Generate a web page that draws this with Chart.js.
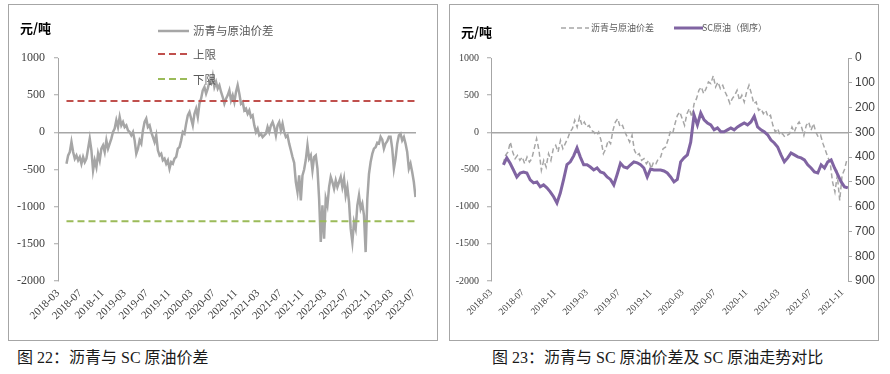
<!DOCTYPE html>
<html><head><meta charset="utf-8">
<script src="https://cdn.jsdelivr.net/npm/chart.js@4.4.0/dist/chart.umd.min.js"></script>
<style>
html,body{margin:0;padding:0;background:#fff;}
body{width:890px;height:374px;position:relative;overflow:hidden;}
.panel{position:absolute;border:1px solid #a6a6a6;box-sizing:border-box;}
.panel canvas{position:absolute;left:0;top:0;}
.abs{position:absolute;white-space:nowrap;}
.unit{font-family:"Noto Sans CJK SC",sans-serif;font-weight:bold;font-size:13px;color:#000;line-height:13px;}
.leg{font-family:"Noto Sans CJK SC",sans-serif;color:#595959;}
.cap{font-size:16px;color:#1a1a1a;line-height:16px;}
</style></head><body>
<div class="panel" style="left:8px;top:4px;width:430px;height:337px;"><canvas id="c1" width="428" height="335"></canvas></div>
<div class="panel" style="left:449px;top:4px;width:430px;height:337px;"><canvas id="c2" width="428" height="335"></canvas></div>

<div class="abs unit" style="left:20px;top:21px;">元/吨</div>
<svg class="abs" style="left:158px;top:26px" width="31" height="10"><line x1="0" y1="5" x2="31" y2="5" stroke="#a6a6a6" stroke-width="2.5"/></svg>
<div class="abs leg" style="left:193px;top:24px;font-size:11.5px;line-height:13px;">沥青与原油价差</div>
<svg class="abs" style="left:158px;top:49px" width="31" height="10"><line x1="0" y1="5" x2="31" y2="5" stroke="#c0504d" stroke-width="2" stroke-dasharray="7,4"/></svg>
<div class="abs leg" style="left:193px;top:48px;font-size:11.5px;line-height:13px;">上限</div>
<svg class="abs" style="left:158px;top:74px" width="31" height="10"><line x1="0" y1="5" x2="31" y2="5" stroke="#9bbb59" stroke-width="2" stroke-dasharray="7,4"/></svg>
<div class="abs leg" style="left:193px;top:73px;font-size:11.5px;line-height:13px;">下限</div>

<div class="abs unit" style="left:461px;top:25px;">元/吨</div>
<svg class="abs" style="left:561px;top:23px" width="28" height="10"><line x1="0" y1="5" x2="28" y2="5" stroke="#a6a6a6" stroke-width="1.5" stroke-dasharray="5,3"/></svg>
<div class="abs leg" style="left:591px;top:23px;font-size:9px;line-height:10px;">沥青与原油价差</div>
<svg class="abs" style="left:674px;top:23px" width="29" height="10"><line x1="0" y1="5" x2="29" y2="5" stroke="#8064a2" stroke-width="3"/></svg>
<div class="abs leg" style="left:702px;top:23px;font-size:9px;line-height:10px;">SC原油（倒序）</div>

<div class="abs cap" style="left:17px;top:350px;">图 22：沥青与 SC 原油价差</div>
<div class="abs cap" style="left:492px;top:350px;">图 23：沥青与 SC 原油价差及 SC 原油走势对比</div>

<script>
// ---------------- data ----------------
const leftTickLabels = ['2018-03','2018-07','2018-11','2019-03','2019-07','2019-11','2020-03','2020-07','2020-11','2021-03','2021-07','2021-11','2022-03','2022-07','2022-11','2023-03','2023-07'];
const rightTickLabels = ['2018-03','2018-07','2018-11','2019-03','2019-07','2019-11','2020-03','2020-07','2020-11','2021-03','2021-07','2021-11'];

// 沥青与原油价差 (元/吨), one reading every ~9.1 days
const spreadStart = '2018-04-17';
const spreadStepDays = 9.1;
const spreadValues = [
 -422,-310,-265,-130,-265,-354,-310,-377,-332,-422,
 -332,-400,-354,-220,-85,-242,-511,-377,-467,-287,
 -377,-220,-175,-265,-108,-220,-152,-85,4,50,
 162,71,206,94,139,71,94,27,4,-40,
 4,-108,-287,-220,-108,-152,27,139,184,71,
 94,4,-63,-130,-40,-242,-310,-287,-377,-354,
 -422,-377,-489,-400,-422,-355,-330,-220,-200,-108,
 4,-18,117,229,273,184,94,251,319,206,
 386,453,565,610,521,588,677,655,760,610,
 677,588,633,543,475,386,453,498,565,431,
 498,408,543,633,521,386,408,296,319,251,
 296,206,229,94,4,50,-40,-18,-63,-40,
 -18,71,4,94,139,71,-40,94,139,27,
 117,4,-63,-40,-152,-242,-332,-410,-668,-803,
 -579,-915,-580,-500,-370,-175,-354,-310,-511,-332,
 -310,-489,-892,-1476,-983,-1431,-892,-983,-736,-601,
 -668,-758,-646,-736,-668,-601,-736,-623,-848,-736,
 -938,-1296,-1476,-1207,-1296,-983,-848,-1027,-960,-1117,
 -1611,-900,-560,-400,-290,-220,-200,-140,-150,-60,
 -100,-220,-150,-120,-60,-60,-220,-489,-354,-152,
 -40,-18,-108,-63,-152,-265,-489,-422,-534,-668,
 -870
];
const upperLimit = 420;
const lowerLimit = -1195;

// SC原油 price (元/桶), one reading every ~12.75 days
const scStart = '2018-04-18';
const scStepDays = 12.75;
const scPrice = [
 431,403,425,452,480,464,460,464,492,504,
 500,520,512,524,540,560,585,545,490,430,
 419,395,363,400,431,431,440,452,444,460,
 464,480,490,512,470,425,440,444,431,419,
 423,431,444,480,448,452,452,452,456,464,
 480,500,490,419,403,391,340,230,270,222,
 250,262,270,290,282,298,298,290,282,290,
 278,270,262,270,258,235,278,290,298,310,
 331,343,359,391,419,403,383,391,399,403,
 411,431,444,460,464,431,444,419,411,444,
 472,500,520,524
];

// ---------------- fonts ----------------
function pickFont(list, fallback){
  const c = document.createElement('canvas').getContext('2d');
  const s = 'mmmmmmmmmmlli10-2SCWwQ';
  c.font = '40px monospace';
  const base = c.measureText(s).width;
  for (const f of list){
    c.font = '40px "' + f + '", monospace';
    if (Math.abs(c.measureText(s).width - base) > 0.5) return '"' + f + '"';
  }
  return fallback;
}
const SERIF = pickFont(['Liberation Serif','Times New Roman','Tinos','DejaVu Serif'], 'serif') + ', serif';
const SANS = pickFont(['Liberation Sans','Arial','Arimo','DejaVu Sans'], 'sans-serif') + ', sans-serif';
document.querySelectorAll('.cap').forEach(el => { el.style.fontFamily = SERIF.replace(', serif','') + ', "Noto Sans CJK SC", serif'; });

// ---------------- helpers ----------------
const MD = 30.4375;
function monthsFromDate(s){ const p = s.split('-').map(Number); return (p[0]-2018)*12 + (p[1]-3) + ((p[2]||1)-1)/MD; }
function monthLabel(m){ const t = Math.round(m) + 2; return (2018 + Math.floor(t/12)) + '-' + String(t%12 + 1).padStart(2,'0'); }
function series(start, stepDays, vals){ const m0 = monthsFromDate(start); return vals.map((v,i)=>({x: m0 + i*stepDays/MD, y: v})); }

const spreadPts = series(spreadStart, spreadStepDays, spreadValues);
const scPts = series(scStart, scStepDays, scPrice);
const leftMax = 64.4, rightMax = 44.72;
const spreadPtsRight = spreadPts.filter(p => p.x <= rightMax + 0.05);

Chart.defaults.animation = false;
Chart.defaults.font.family = SERIF;

function xScale(labels, max, fontSize){
  return {
    type:'linear', min:0, max:max,
    afterBuildTicks: s => { s.ticks = labels.map(l => ({value: monthsFromDate(l + '-01')})); },
    ticks:{ callback: v => monthLabel(v), autoSkip:false, maxRotation:45, minRotation:45, color:'#404040', font:{family:SERIF, size:fontSize}, padding:6 },
    grid:{ display:false, drawTicks:false }, border:{ display:false },
    afterFit: s => { s.height = 59; }
  };
}
function zeroGrid(){
  return { color: c => (c.tick && c.tick.value === 0) ? '#a6a6a6' : 'rgba(0,0,0,0)', lineWidth: 1.5, tickColor:'#a6a6a6', tickLength:4, tickWidth:1 };
}
const plainNum = v => String(v);

new Chart(document.getElementById('c1'), {
  type:'line',
  data:{ datasets:[
    { label:'上限', data:[{x:spreadPts[0].x, y:upperLimit},{x:spreadPts[spreadPts.length-1].x, y:upperLimit}], borderColor:'#c0504d', borderWidth:2, borderDash:[7,4], pointRadius:0, order:1 },
    { label:'下限', data:[{x:spreadPts[0].x, y:lowerLimit},{x:spreadPts[spreadPts.length-1].x, y:lowerLimit}], borderColor:'#9bbb59', borderWidth:2, borderDash:[7,4], pointRadius:0, order:2 },
    { label:'沥青与原油价差', data:spreadPts, borderColor:'#a6a6a6', borderWidth:2.5, pointRadius:0, tension:0, order:3 }
  ]},
  options:{
    responsive:false, devicePixelRatio:1,
    layout:{ padding:{ top:53, right:21, left:0, bottom:0 } },
    plugins:{ legend:{display:false}, tooltip:{enabled:false} },
    scales:{
      x: xScale(leftTickLabels, leftMax, 11),
      y: { min:-2000, max:1000, ticks:{ stepSize:500, callback: plainNum, color:'#404040', font:{family:SERIF, size:12}, padding:9 },
           border:{ display:true, color:'#a6a6a6', width:1 }, grid: zeroGrid(),
           afterFit: s => { s.width = 49; } }
    }
  }
});

new Chart(document.getElementById('c2'), {
  type:'line',
  data:{ datasets:[
    { label:'SC原油（倒序）', data:scPts, yAxisID:'y2', borderColor:'#8064a2', borderWidth:3, pointRadius:0, tension:0, order:1 },
    { label:'沥青与原油价差', data:spreadPtsRight, yAxisID:'y', borderColor:'#a6a6a6', borderWidth:1.5, borderDash:[5,3], pointRadius:0, tension:0, order:2 }
  ]},
  options:{
    responsive:false, devicePixelRatio:1,
    layout:{ padding:{ top:53, right:0, left:0, bottom:0 } },
    plugins:{ legend:{display:false}, tooltip:{enabled:false} },
    scales:{
      x: xScale(rightTickLabels, rightMax, 9.5),
      y: { position:'left', min:-2000, max:1000, ticks:{ stepSize:500, callback: plainNum, color:'#404040', font:{family:SERIF, size:10}, padding:8 },
           border:{ display:true, color:'#a6a6a6', width:1 }, grid: zeroGrid(),
           afterFit: s => { s.width = 41; } },
      y2:{ position:'right', reverse:true, min:0, max:900, ticks:{ stepSize:100, callback: plainNum, color:'#404040', font:{size:12, family:SANS}, padding:3 },
           border:{ display:true, color:'#a6a6a6', width:1 }, grid:{ drawOnChartArea:false, tickColor:'#a6a6a6', tickLength:4 },
           afterFit: s => { s.width = 30; } }
    }
  }
});
</script>
</body></html>
